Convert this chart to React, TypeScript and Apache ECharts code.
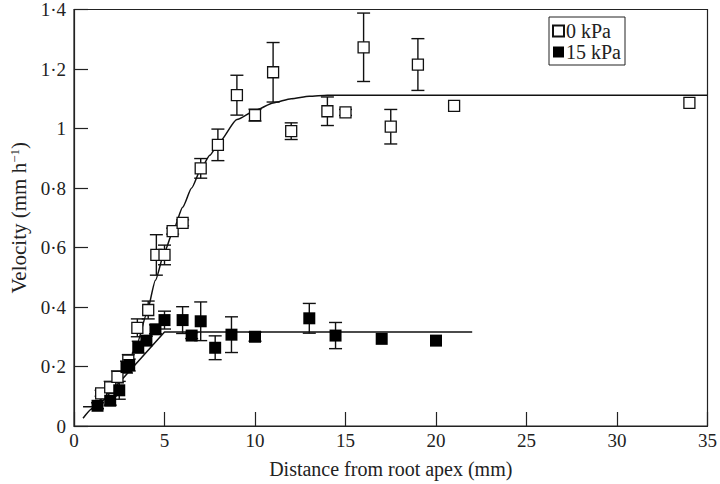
import React, { useEffect, useRef } from "react";
import * as echarts from "echarts";

const xTicks = [0, 5, 10, 15, 20, 25, 30, 35];

const kPa0X = [1.5, 2.0, 2.4, 3.0, 3.5, 4.1, 4.55, 5.0, 5.45, 6.0, 7.0, 7.95, 9.0, 10.0, 11.0, 12.0, 14.0, 15.0, 16.0, 17.5, 19.0, 21.0, 34.0];
const kPa0V = [0.11, 0.13, 0.165, 0.22, 0.33, 0.39, 0.575, 0.575, 0.655, 0.683, 0.866, 0.945, 1.112, 1.045, 1.189, 0.991, 1.058, 1.054, 1.273, 1.006, 1.215, 1.076, 1.086];
const kPa0Err = [0.01, 0.02, 0.02, 0.02, 0.03, 0.03, 0.068, 0.033, 0.01, 0.01, 0.033, 0.053, 0.067, 0.02, 0.1, 0.028, 0.048, 0.01, 0.115, 0.058, 0.087, 0, 0];

const kPa15X = [1.3, 2.0, 2.5, 2.9, 3.05, 3.55, 4.0, 4.5, 5.0, 6.0, 6.5, 7.0, 7.8, 8.7, 10.0, 13.0, 14.45, 17.0, 20.0];
const kPa15V = [0.068, 0.085, 0.12, 0.198, 0.205, 0.265, 0.287, 0.325, 0.356, 0.356, 0.304, 0.352, 0.263, 0.307, 0.3, 0.362, 0.304, 0.293, 0.287];
const kPa15Err = [0.01, 0.015, 0.03, 0.02, 0.02, 0.02, 0.015, 0.015, 0.03, 0.045, 0.01, 0.065, 0.04, 0.06, 0.015, 0.05, 0.044, 0, 0];

const fit0X = [0.5, 1.0, 1.5, 2.0, 2.5, 3.0, 3.5, 4.0, 4.5, 5.0, 5.5, 6.0, 6.5, 7.0, 7.5, 8.0, 9.0, 10.0, 11.0, 12.0, 13.0, 14.0, 35];
const fit0V = [0.026, 0.058, 0.09, 0.125, 0.165, 0.21, 0.28, 0.375, 0.49, 0.585, 0.66, 0.735, 0.8, 0.862, 0.91, 0.952, 1.03, 1.06, 1.086, 1.1, 1.108, 1.112, 1.112];

const fit15X = [0.5, 1.3, 5.0, 22.0];
const fit15V = [0.065, 0.065, 0.316, 0.316];

const FONT = "'Liberation Serif', 'Times New Roman', serif";

const fmtY = (v: number) => {
  if (v === 0) return "0";
  if (Math.abs(v - 1) < 1e-9) return "1";
  return v.toFixed(1).replace(".", "·");
};

function zip(xs: number[], ys: number[]) {
  return xs.map((x, i) => [x, ys[i]]);
}
function zip3(xs: number[], ys: number[], es: number[]) {
  return xs.map((x, i) => [x, ys[i], es[i]]).filter((d) => d[2] > 0);
}

const errRender = (params: any, api: any) => {
  const x = api.value(0);
  const y = api.value(1);
  const e = api.value(2);
  const top = api.coord([x, y + e]);
  const bot = api.coord([x, y - e]);
  const hw = 6.5;
  const st = { stroke: "#111", lineWidth: 1.4 };
  return {
    type: "group",
    children: [
      { type: "line", shape: { x1: top[0], y1: top[1], x2: bot[0], y2: bot[1] }, style: st },
      { type: "line", shape: { x1: top[0] - hw, y1: top[1], x2: top[0] + hw, y2: top[1] }, style: st },
      { type: "line", shape: { x1: bot[0] - hw, y1: bot[1], x2: bot[0] + hw, y2: bot[1] }, style: st },
    ],
  };
};

export default function App() {
  const ref = useRef<HTMLDivElement>(null);
  useEffect(() => {
    document.body.style.margin = "0";
    if (!ref.current) return;
    const chart = echarts.init(ref.current, null, { renderer: "svg" });
    chart.setOption({
      animation: false,
      backgroundColor: "#fff",
      textStyle: { fontFamily: FONT },
      grid: {
        left: 66,
        right: 9,
        top: 7,
        bottom: 58,
        show: true,
        borderColor: "#222",
        borderWidth: 1.2,
        backgroundColor: "transparent",
      },
      legend: {
        data: ["0 kPa", "15 kPa"],
        orient: "vertical",
        left: 549,
        top: 17,
        borderColor: "#222",
        borderWidth: 1,
        borderRadius: 0,
        padding: [4, 4, 3, 3],
        itemWidth: 11,
        itemHeight: 11,
        itemGap: 1,
        icon: "rect",
        textStyle: { fontFamily: FONT, fontSize: 20, color: "#222", padding: [0, 0, 0, -3] },
      },
      xAxis: {
        type: "value",
        min: 0,
        max: 35,
        interval: 5,
        name: "Distance from root apex (mm)",
        nameLocation: "middle",
        nameGap: 33,
        nameTextStyle: { fontFamily: FONT, fontSize: 20, color: "#222" },
        axisLine: { show: true, lineStyle: { color: "#222", width: 1.2 } },
        axisTick: { show: true, inside: true, length: 14, lineStyle: { color: "#222", width: 1.2 } },
        axisLabel: { fontFamily: FONT, fontSize: 19, color: "#222", margin: 5 },
        splitLine: { show: false },
      },
      yAxis: {
        type: "value",
        min: 0,
        max: 1.4,
        interval: 0.2,
        name: "Velocity (mm h{sup|−1})",
        nameLocation: "middle",
        nameGap: 44,
        nameTextStyle: {
          fontFamily: FONT,
          fontSize: 21,
          color: "#222",
          rich: { sup: { fontFamily: FONT, fontSize: 13, color: "#222", verticalAlign: "top", padding: [0, 0, 9, 0] } },
        },
        axisLine: { show: true, lineStyle: { color: "#222", width: 1.2 } },
        axisTick: { show: true, inside: true, length: 14, lineStyle: { color: "#222", width: 1.2 } },
        axisLabel: { fontFamily: FONT, fontSize: 19, color: "#222", margin: 8, formatter: fmtY },
        splitLine: { show: false },
      },
      series: [
        {
          name: "fit0",
          type: "line",
          data: zip(fit0X, fit0V),
          smooth: 0.2,
          smoothMonotone: "x",
          showSymbol: false,
          symbol: "none",
          lineStyle: { color: "#111", width: 1.5 },
          z: 1,
        },
        {
          name: "fit15",
          type: "line",
          data: zip(fit15X, fit15V),
          showSymbol: false,
          symbol: "none",
          lineStyle: { color: "#111", width: 1.5 },
          z: 1,
        },
        {
          name: "err0",
          type: "custom",
          renderItem: errRender,
          data: zip3(kPa0X, kPa0V, kPa0Err),
          z: 2,
        },
        {
          name: "err15",
          type: "custom",
          renderItem: errRender,
          data: zip3(kPa15X, kPa15V, kPa15Err),
          z: 2,
        },
        {
          name: "0 kPa",
          type: "scatter",
          data: zip(kPa0X, kPa0V),
          symbol: "rect",
          symbolSize: 11,
          itemStyle: { color: "#fff", borderColor: "#111", borderWidth: 1.3, opacity: 1 },
          z: 3,
        },
        {
          name: "15 kPa",
          type: "scatter",
          data: zip(kPa15X, kPa15V),
          symbol: "rect",
          symbolSize: 12,
          itemStyle: { color: "#000", borderColor: "#000", borderWidth: 0, opacity: 1 },
          z: 4,
        },
      ],
    });
    return () => chart.dispose();
  }, []);
  return <div ref={ref} style={{ width: 720, height: 484 }} />;
}
